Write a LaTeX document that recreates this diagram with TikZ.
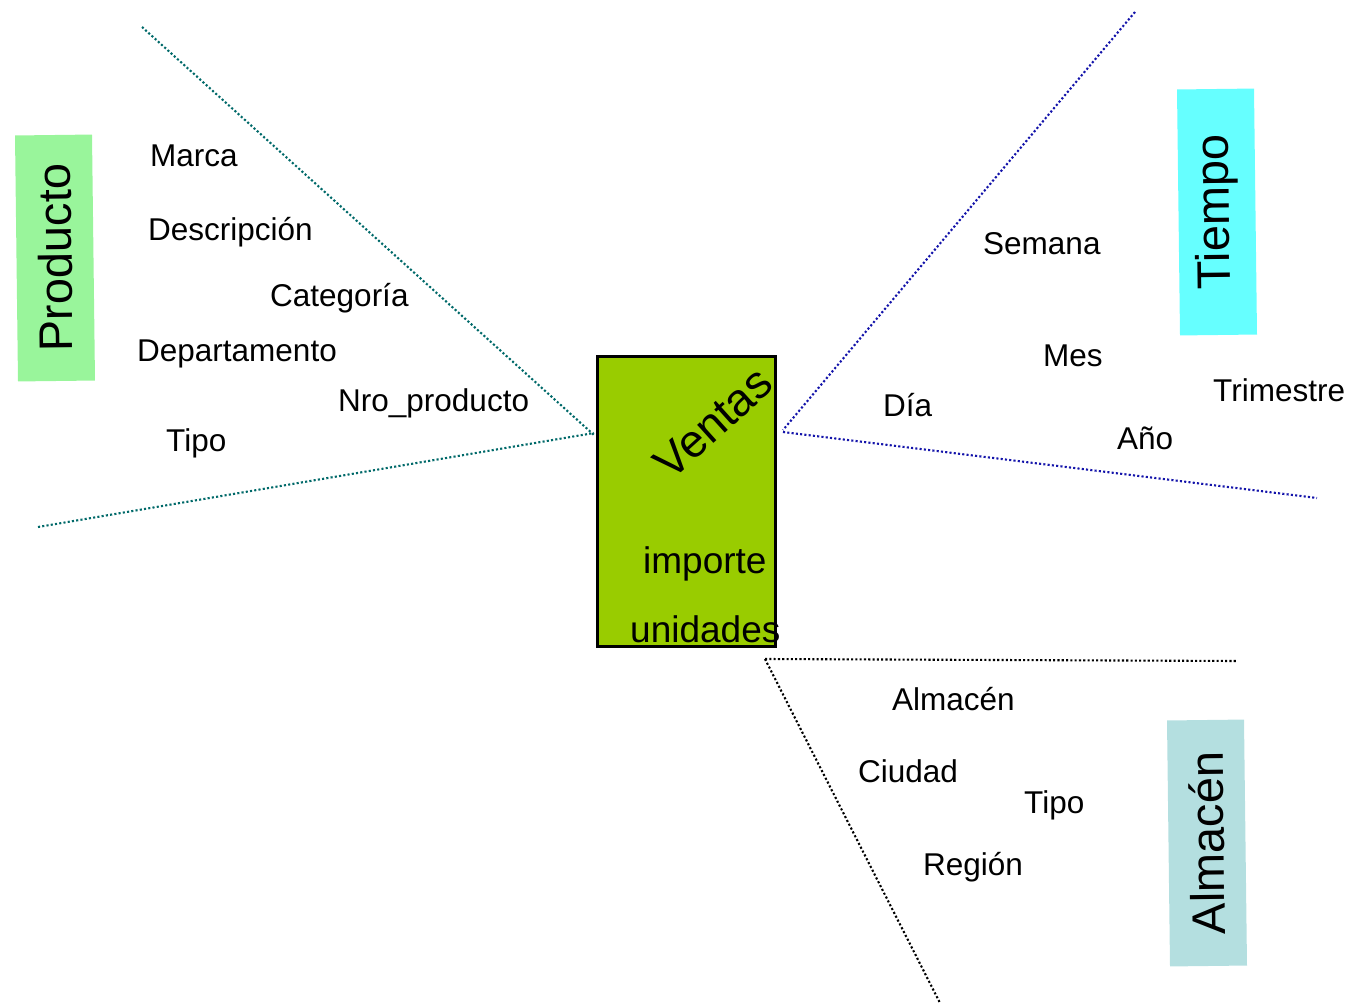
\documentclass[tikz,border=0pt]{standalone}
\usepackage{fontspec}
\setmainfont{Liberation Sans}

\definecolor{factgreen}{RGB}{153,204,0}
\definecolor{prodgreen}{RGB}{153,245,155}
\definecolor{timecyan}{RGB}{102,255,255}
\definecolor{storeblue}{RGB}{180,223,224}
\definecolor{prodline}{RGB}{0,105,105}
\definecolor{timeline}{RGB}{20,20,170}

\tikzset{
  attr/.style={anchor=base west, inner sep=0pt, font=\fontsize{31.5}{38}\selectfont},
  measure/.style={anchor=base west, inner sep=0pt, font=\fontsize{37}{44}\selectfont},
  dimlabel/.style={rotate=90.7, minimum width=246pt, minimum height=77pt,
                   inner sep=0pt, font=\fontsize{47}{56}\selectfont},
  dotline/.style={line width=2.1pt, dash pattern=on 2.1pt off 2.2pt},
}

\begin{document}
\begin{tikzpicture}[x=1pt, y=-1pt]
\useasboundingbox (0,0) rectangle (1350,1004);

% fact table
\node[draw=black, line width=3pt, fill=factgreen, minimum width=178pt,
      minimum height=290pt, inner sep=0pt] (ventas) at (686,501) {};
\node[rotate=42, inner sep=0pt, font=\fontsize{46}{54}\selectfont] (vtitle) at (713,423) {Ventas};
\node[measure] (importe) at (643,573) {importe};
\node[measure] (unidades) at (630,642) {unidades};

% line end points
\coordinate (pc1) at (594,435);
\coordinate (pc2) at (594,433);
\coordinate (ptop) at (142,27);
\coordinate (pbot) at (38,527);
\coordinate (tc1) at (783,430);
\coordinate (tc2) at (783,432);
\coordinate (ttop) at (1135,12);
\coordinate (tright) at (1317,498);
\coordinate (ac) at (765,659);
\coordinate (aright) at (1237,661);
\coordinate (abot) at (940,1003);

% dimension boundaries
\draw[dotline, prodline] (ptop) -- (pc1);
\draw[dotline, prodline] (pbot) -- (pc2);
\draw[dotline, timeline] (ttop) -- (tc1);
\draw[dotline, timeline] (tc2) -- (tright);
\draw[dotline, black] (ac) -- (aright);
\draw[dotline, black] (ac) -- (abot);

% dimension labels
\node[dimlabel, fill=prodgreen] (producto) at (55,258) {Producto};
\node[dimlabel, fill=timecyan] (tiempo) at (1217,212) {Tiempo};
\node[dimlabel, fill=storeblue] (almacen) at (1207,843) {Almacén};

% Producto attributes
\node[attr] (marca) at (150,166) {Marca};
\node[attr] (descr) at (148,240) {Descripción};
\node[attr] (categ) at (270,306) {Categoría};
\node[attr] (depto) at (137,361) {Departamento};
\node[attr] (nro) at (338,411) {Nro\_producto};
\node[attr] (ptipo) at (166,451) {Tipo};

% Tiempo attributes
\node[attr] (semana) at (983,254) {Semana};
\node[attr] (mes) at (1043,366) {Mes};
\node[attr] (dia) at (883,416) {Día};
\node[attr] (trim) at (1213,401) {Trimestre};
\node[attr] (anio) at (1117,449) {Año};

% Almacén attributes
\node[attr] (alm) at (892,710) {Almacén};
\node[attr] (ciudad) at (858,782) {Ciudad};
\node[attr] (atipo) at (1024,813) {Tipo};
\node[attr] (region) at (923,875) {Región};
\end{tikzpicture}
\end{document}
